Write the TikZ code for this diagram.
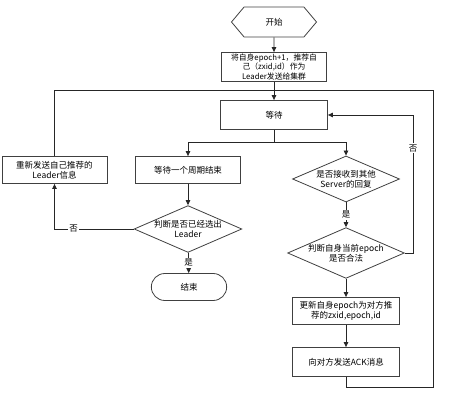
\documentclass[tikz,border=0pt]{standalone}
\usepackage{fontspec}
\setmainfont{Noto Sans CJK SC}
\usetikzlibrary{positioning, arrows.meta, shapes.geometric, shapes.symbols, shapes.misc}

\begin{document}
\begin{tikzpicture}[
		x=1pt, y=-1pt,
		>={Triangle[length=5pt, width=4.5pt]},
		% Process boxes
		procbox/.style={
				rectangle, draw=black!75, thick, fill=white,
				minimum width=#1, minimum height=28pt, inner sep=1pt,
				font=\fontsize{8.5}{10}\selectfont, align=center
			},
		procbox/.default=106pt,
		% Decisions
		decision/.style={
				diamond, draw=black!75, thick, fill=white, aspect=2.3,
				minimum width=107pt, minimum height=46pt, inner sep=0pt,
				font=\fontsize{8.5}{10}\selectfont, align=center
			},
		% Start and end
		startbox/.style={
				signal, signal to=west and east, signal pointer angle=100,
				draw=black!75, thick, minimum width=85pt, minimum height=30pt,
				font=\fontsize{8.5}{10}\selectfont
			},
		endbox/.style={
				rounded rectangle, draw=black!75, thick,
				minimum width=82pt, minimum height=27pt,
				font=\fontsize{8.5}{10}\selectfont
			},
		% Arrows
		flow/.style={->, thick, draw=black!85},
		line/.style={thick, draw=black!85},
		lab/.style={font=\fontsize{8.5}{10}\selectfont, fill=white, inner sep=1pt}
	]
	\useasboundingbox (0,0) rectangle (475,411);

	% ==========================================
	% 1. MAIN COLUMN (X=274)
	% ==========================================

	\node[startbox] (start) at (274, 22) {开始};

	\node[procbox=105pt, minimum height=29pt, font=\fontsize{7.8}{9.2}\selectfont]
	(propose) at (274, 67) {将自身epoch+1，推荐自\\己（zxid,id）作为\\Leader发送给集群};

	\node[procbox=107pt, minimum height=29pt] (wait) at (274, 115) {等待};

	% ==========================================
	% 2. LEFT BRANCH
	% ==========================================

	\node[procbox=105pt, minimum height=27pt] (resend) at (54.5, 170) {重新发送自己推荐的\\Leader信息};
	\node[procbox=105pt, minimum height=27pt] (period) at (188, 170) {等待一个周期结束};
	\node[decision, minimum width=105pt, minimum height=45pt] (elected) at (188, 229) {判断是否已经选出\\Leader};
	\node[endbox] (finish) at (189, 287) {结束};

	% ==========================================
	% 3. RIGHT BRANCH
	% ==========================================

	\node[decision] (received) at (346, 179) {是否接收到其他\\Server的回复};
	\node[decision, minimum height=47pt] (legal) at (346, 253) {判断自身当前epoch\\是否合法};
	\node[procbox=107pt, minimum height=27pt] (update) at (346, 311) {更新自身epoch为对方推\\荐的zxid,epoch,id};
	\node[procbox=107pt, minimum height=29pt] (ack) at (346, 362) {向对方发送ACK消息};

	% Corner points of the routed lines
	\coordinate (split) at (274, 142);
	\coordinate (looptop) at (274, 90);
	\coordinate (loopcorner) at (433, 387);
	\coordinate (retry) at (413, 253);

	% ==========================================
	% 4. CONNECTORS
	% ==========================================

	\draw[flow] (start) -- (propose);
	\draw[flow] (propose) -- (wait);

	% Split below the waiting box
	\draw[line] (wait) -- (split);
	\draw[flow] (split) -| (period);
	\draw[flow] (split) -| (received);

	% Left side
	\draw[flow] (period) -- (elected);
	\draw[flow] (elected) -- node[lab] {是} (finish);
	\draw[flow] (elected.west) -| node[lab, pos=0.38] {否} (resend.south);
	\draw[line] (resend.north) |- (looptop);

	% Right side
	\draw[flow] (received) -- node[lab] {是} (legal);
	\draw[flow] (legal) -- (update);
	\draw[flow] (update) -- (ack);
	\draw[flow] (legal.east) -- (retry) |- node[lab, pos=0.38] {否} (wait.east);
	\draw[line] (ack.south) |- (loopcorner) |- (looptop);

\end{tikzpicture}
\end{document}
